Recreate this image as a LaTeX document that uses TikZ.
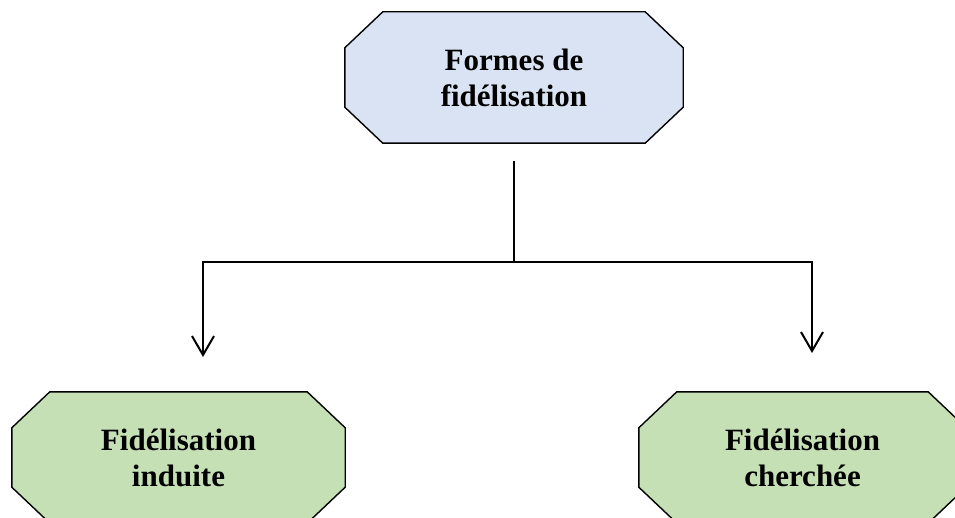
\documentclass[tikz,border=0pt]{standalone}
\usepackage{fontspec}
\setmainfont{Liberation Serif}
\usetikzlibrary{arrows.meta,backgrounds}
\definecolor{boxblue}{HTML}{DAE3F3}
\definecolor{boxgreen}{HTML}{C5E0B4}
\tikzset{
  octbox/.style={rectangle, minimum height=131pt, inner sep=0pt,
    align=center, font=\fontsize{31}{36}\selectfont\bfseries},
  octline/.style={draw=black, line width=1.4pt, line join=miter},
  link/.style={draw=black, line width=2pt},
  linkarrow/.style={link, -{Straight Barb[length=19pt,width=22pt,line width=2pt]}}
}
% octagonal outline around a named node, corners cut 38pt x 36pt
\newcommand\octoutline[2]{%
  \path[octline, fill=#2]
    ([xshift=38pt]#1.north west) -- ([xshift=-38pt]#1.north east)
    -- ([yshift=-36pt]#1.north east) -- ([yshift=36pt]#1.south east)
    -- ([xshift=-38pt]#1.south east) -- ([xshift=38pt]#1.south west)
    -- ([yshift=36pt]#1.south west) -- ([yshift=-36pt]#1.north west) -- cycle;}
\begin{document}
\begin{tikzpicture}[x=1pt,y=-1pt]
  \useasboundingbox (0,0) rectangle (955,518);
  \node[octbox, minimum width=338pt] (forms) at (514,77.5) {Formes de\\fidélisation};
  \node[octbox, minimum width=333pt] (induced) at (178.5,457.5) {Fidélisation\\induite};
  \node[octbox, minimum width=327pt] (sought) at (802.5,457.5) {Fidélisation\\cherchée};
  \begin{pgfonlayer}{background}
    \octoutline{forms}{boxblue}
    \octoutline{induced}{boxgreen}
    \octoutline{sought}{boxgreen}
  \end{pgfonlayer}
  \coordinate (stem) at (514,161);
  \coordinate (split) at (514,262);
  \coordinate (lcorner) at (203,262);
  \coordinate (rcorner) at (812,262);
  \coordinate (lend) at (203,357);
  \coordinate (rend) at (812,353);
  \draw[link] (stem) -- (split);
  \draw[linkarrow] (split) -- (lcorner) -- (lend);
  \draw[linkarrow] (split) -- (rcorner) -- (rend);
\end{tikzpicture}
\end{document}
